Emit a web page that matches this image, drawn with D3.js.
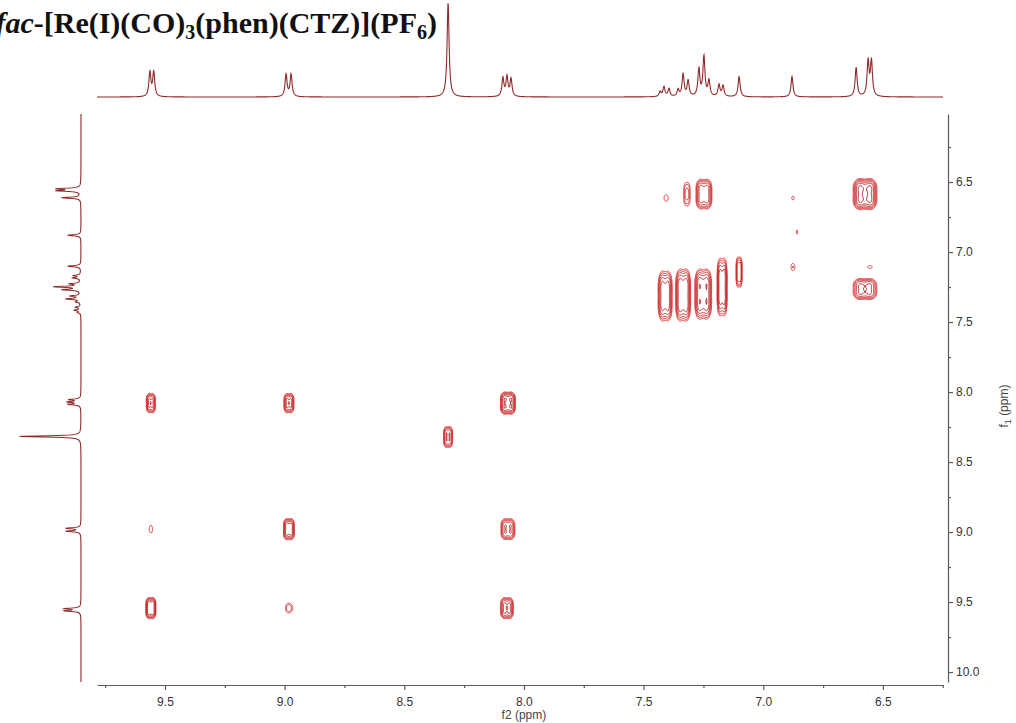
<!DOCTYPE html>
<html>
<head>
<meta charset="utf-8">
<style>
  body { margin: 0; background: #fff; }
  svg { display: block; }
  .axis path, .axis line { stroke: #5a5a5a; stroke-width: 1.2px; }
  .axis text { fill: #333; font-family: "Liberation Sans", Arial, sans-serif; font-size: 12px; }
  .lbl { fill: #444; font-family: "Liberation Sans", Arial, sans-serif; font-size: 12px; }
  .spec { fill: none; stroke: #8e2a2a; stroke-width: 1.1px; }
</style>
<script src="https://cdnjs.cloudflare.com/ajax/libs/d3/7.8.5/d3.min.js"></script>
</head>
<body>
<svg width="1016" height="723"></svg>
<script>
// 1H lines: [ppm, height]
var protonLines = [
  [9.563, 25], [9.547, 25],
  [8.994, 23], [8.973, 23],
  [8.317, 97],
  [8.088, 19], [8.071, 20], [8.054, 18],
  [7.431, 5], [7.415, 10], [7.394, 8],
  [7.356, 7], [7.335, 23], [7.314, 16],
  [7.269, 28], [7.248, 41], [7.227, 16],
  [7.185, 12], [7.168, 11],
  [7.101, 21],
  [6.880, 21],
  [6.612, 30], [6.562, 36], [6.548, 36]
];

// COSY cross peaks: [f2 ppm, f1 ppm, f2 width, f1 width, intensity]
var crossPeaks = [
  [9.559, 8.079, 0.038, 0.143, 1.0],
  [8.982, 8.079, 0.042, 0.143, 1.0],
  [8.067, 8.079, 0.063, 0.164, 1.6],
  [8.317, 8.321, 0.038, 0.157, 0.9],
  [9.559, 8.979, 0.021, 0.086, 0.14],
  [8.982, 8.979, 0.046, 0.157, 1.2],
  [8.067, 8.979, 0.059, 0.157, 0.9],
  [9.559, 9.543, 0.042, 0.157, 1.4],
  [8.982, 9.543, 0.033, 0.086, 0.25],
  [8.071, 9.543, 0.054, 0.157, 1.0],
  [7.406, 6.614, 0.025, 0.071, 0.15],
  [7.319, 6.586, 0.029, 0.193, 0.35],
  [7.248, 6.586, 0.067, 0.221, 1.2],
  [6.876, 6.614, 0.017, 0.043, 0.13],
  [6.859, 6.857, 0.010, 0.057, 0.12],
  [6.876, 7.107, 0.021, 0.071, 0.18],
  [6.575, 6.586, 0.100, 0.229, 1.8],
  [6.554, 7.107, 0.029, 0.036, 0.12],
  [7.410, 7.314, 0.059, 0.371, 1.2],
  [7.335, 7.307, 0.063, 0.386, 1.4],
  [7.251, 7.300, 0.071, 0.371, 1.5],
  [7.172, 7.250, 0.042, 0.429, 1.3],
  [7.101, 7.143, 0.025, 0.229, 0.8],
  [6.575, 7.264, 0.100, 0.157, 1.0]
];

var f2Domain = [9.784, 6.249];
var f1Domain = [6.014, 10.071];
var majorTicks2 = [9.5, 9.0, 8.5, 8.0, 7.5, 7.0, 6.5];
var minorTicks2 = [9.75, 9.25, 8.75, 8.25, 7.75, 7.25, 6.75, 6.25];
var majorTicks1 = [6.5, 7.0, 7.5, 8.0, 8.5, 9.0, 9.5, 10.0];
var minorTicks1 = [6.25, 6.75, 7.25, 7.75, 8.25, 8.75, 9.25, 9.75];
var levels = [0.1, 0.17, 0.29, 0.5, 0.85, 1.45];

var svg = d3.select("svg");
var x0 = 97, x1 = 943, y0 = 114, y1 = 682;

var x = d3.scaleLinear().domain(f2Domain).range([x0, x1]);
var y = d3.scaleLinear().domain(f1Domain).range([y0, y1]);
var topY = d3.scaleLinear().domain([0, 100]).range([97, 0]);
var leftX = d3.scaleLinear().domain([0, 100]).range([81, 1]);

// title
var title = svg.append("text")
  .attr("x", 437).attr("y", 33)
  .attr("text-anchor", "end")
  .attr("font-family", "'Liberation Serif', 'Times New Roman', serif")
  .attr("font-weight", "bold")
  .attr("font-size", 30)
  .attr("fill", "#111");
title.append("tspan").attr("font-style", "italic").text("fac");
title.append("tspan").text("-[Re(I)(CO)");
title.append("tspan").attr("font-size", 20).attr("dy", 6).text("3");
title.append("tspan").attr("dy", -6).text("(phen)(CTZ)](PF");
title.append("tspan").attr("font-size", 20).attr("dy", 6).text("6");
title.append("tspan").attr("dy", -6).text(")");

// 1D spectrum
var gam = 0.005;
function spec(p) {
  var v = 0;
  protonLines.forEach(function(l) {
    var d = (p - l[0]) / gam;
    v += l[1] / (1 + d * d);
  });
  return v;
}

var topData = d3.range(x0, x1 + 0.01, 0.25).map(function(px) {
  var p = x.invert(px);
  return [p, spec(p)];
});
svg.append("path").attr("class", "spec")
  .attr("d", d3.line().x(function(d) { return x(d[0]); }).y(function(d) { return topY(d[1]); })(topData));

var leftData = d3.range(y0, y1 + 0.01, 0.25).map(function(py) {
  var p = y.invert(py);
  return [p, spec(p) * 0.8];
});
svg.append("path").attr("class", "spec")
  .attr("d", d3.line().x(function(d) { return leftX(d[1]); }).y(function(d) { return y(d[0]); })(leftData));

// 2D field on a 1px grid
var nx = x1 - x0, ny = y1 - y0;
var grid = new Float64Array(nx * ny);
var w2 = [1, 0.55, 1], w1 = [1, 0.6, 0.6, 1];

function prof(d, o, s, w) {
  var v = 0;
  for (var k = 0; k < o.length; k++) {
    var e = d - o[k];
    v += w[k] * Math.exp(-e * e / (2 * s * s));
  }
  return v;
}

crossPeaks.forEach(function(p) {
  var hw = p[2] / 2, hh = p[3] / 2, a = p[4];
  var k = Math.sqrt(2 * Math.log(a / levels[0]));
  var s2 = 0.55 * hw / k, s1 = 0.55 * hh / k;
  var o2 = [-0.45 * hw, 0, 0.45 * hw], o1 = [-0.45 * hh, -0.15 * hh, 0.15 * hh, 0.45 * hh];
  var m2 = d3.max(d3.range(-1, 1.001, 0.01), function(t) { return prof(t * hw, o2, s2, w2); });
  var m1 = d3.max(d3.range(-1, 1.001, 0.01), function(t) { return prof(t * hh, o1, s1, w1); });
  var r2 = 0.45 * hw + 3.5 * s2, r1 = 0.45 * hh + 3.5 * s1;
  var i0 = Math.max(0, Math.floor(x(p[0] + r2) - x0)), i1 = Math.min(nx - 1, Math.ceil(x(p[0] - r2) - x0));
  var j0 = Math.max(0, Math.floor(y(p[1] - r1) - y0)), j1 = Math.min(ny - 1, Math.ceil(y(p[1] + r1) - y0));
  var col = [];
  for (var j = j0; j <= j1; j++) col.push(prof(y.invert(y0 + j + 0.5) - p[1], o1, s1, w1) / m1);
  for (var i = i0; i <= i1; i++) {
    var v2 = prof(x.invert(x0 + i + 0.5) - p[0], o2, s2, w2) / m2;
    for (var jj = j0; jj <= j1; jj++) {
      grid[jj * nx + i] += a * v2 * col[jj - j0];
    }
  }
});

var contours = d3.contours().size([nx, ny]).thresholds(levels)(grid);
var color = d3.scaleLinear().domain([0, levels.length - 1]).range(["#de3030", "#a80e0e"]);

svg.append("g")
  .attr("transform", "translate(" + x0 + "," + y0 + ")")
  .selectAll("path")
  .data(contours)
  .join("path")
  .attr("d", d3.geoPath())
  .attr("fill", "none")
  .attr("stroke", function(d) { return color(levels.indexOf(d.value)); })
  .attr("stroke-width", 0.9);

// axes
var fmt = d3.format(".1f");
svg.append("g").attr("class", "axis")
  .attr("transform", "translate(0,685)")
  .call(d3.axisBottom(x).tickValues(majorTicks2).tickSize(5).tickPadding(7).tickSizeOuter(0).tickFormat(fmt));
svg.append("g").attr("class", "axis")
  .attr("transform", "translate(0,685)")
  .call(d3.axisBottom(x).tickValues(minorTicks2).tickSize(3).tickSizeOuter(0).tickFormat(""))
  .select(".domain").remove();

svg.append("g").attr("class", "axis")
  .attr("transform", "translate(948,0)")
  .call(d3.axisRight(y).tickValues(majorTicks1).tickSize(5).tickPadding(3).tickSizeOuter(0).tickFormat(fmt));
svg.append("g").attr("class", "axis")
  .attr("transform", "translate(948,0)")
  .call(d3.axisRight(y).tickValues(minorTicks1).tickSize(3).tickSizeOuter(0).tickFormat(""))
  .select(".domain").remove();

svg.append("text").attr("class", "lbl")
  .attr("x", x(8.0)).attr("y", 719)
  .attr("text-anchor", "middle")
  .text("f2 (ppm)");

var yl = svg.append("text").attr("class", "lbl")
  .attr("transform", "translate(1008," + y(8.1) + ") rotate(-90)")
  .attr("text-anchor", "middle");
yl.append("tspan").text("f");
yl.append("tspan").attr("font-size", 9).attr("dy", 3).text("1");
yl.append("tspan").attr("dy", -3).text(" (ppm)");
</script>
</body>
</html>
